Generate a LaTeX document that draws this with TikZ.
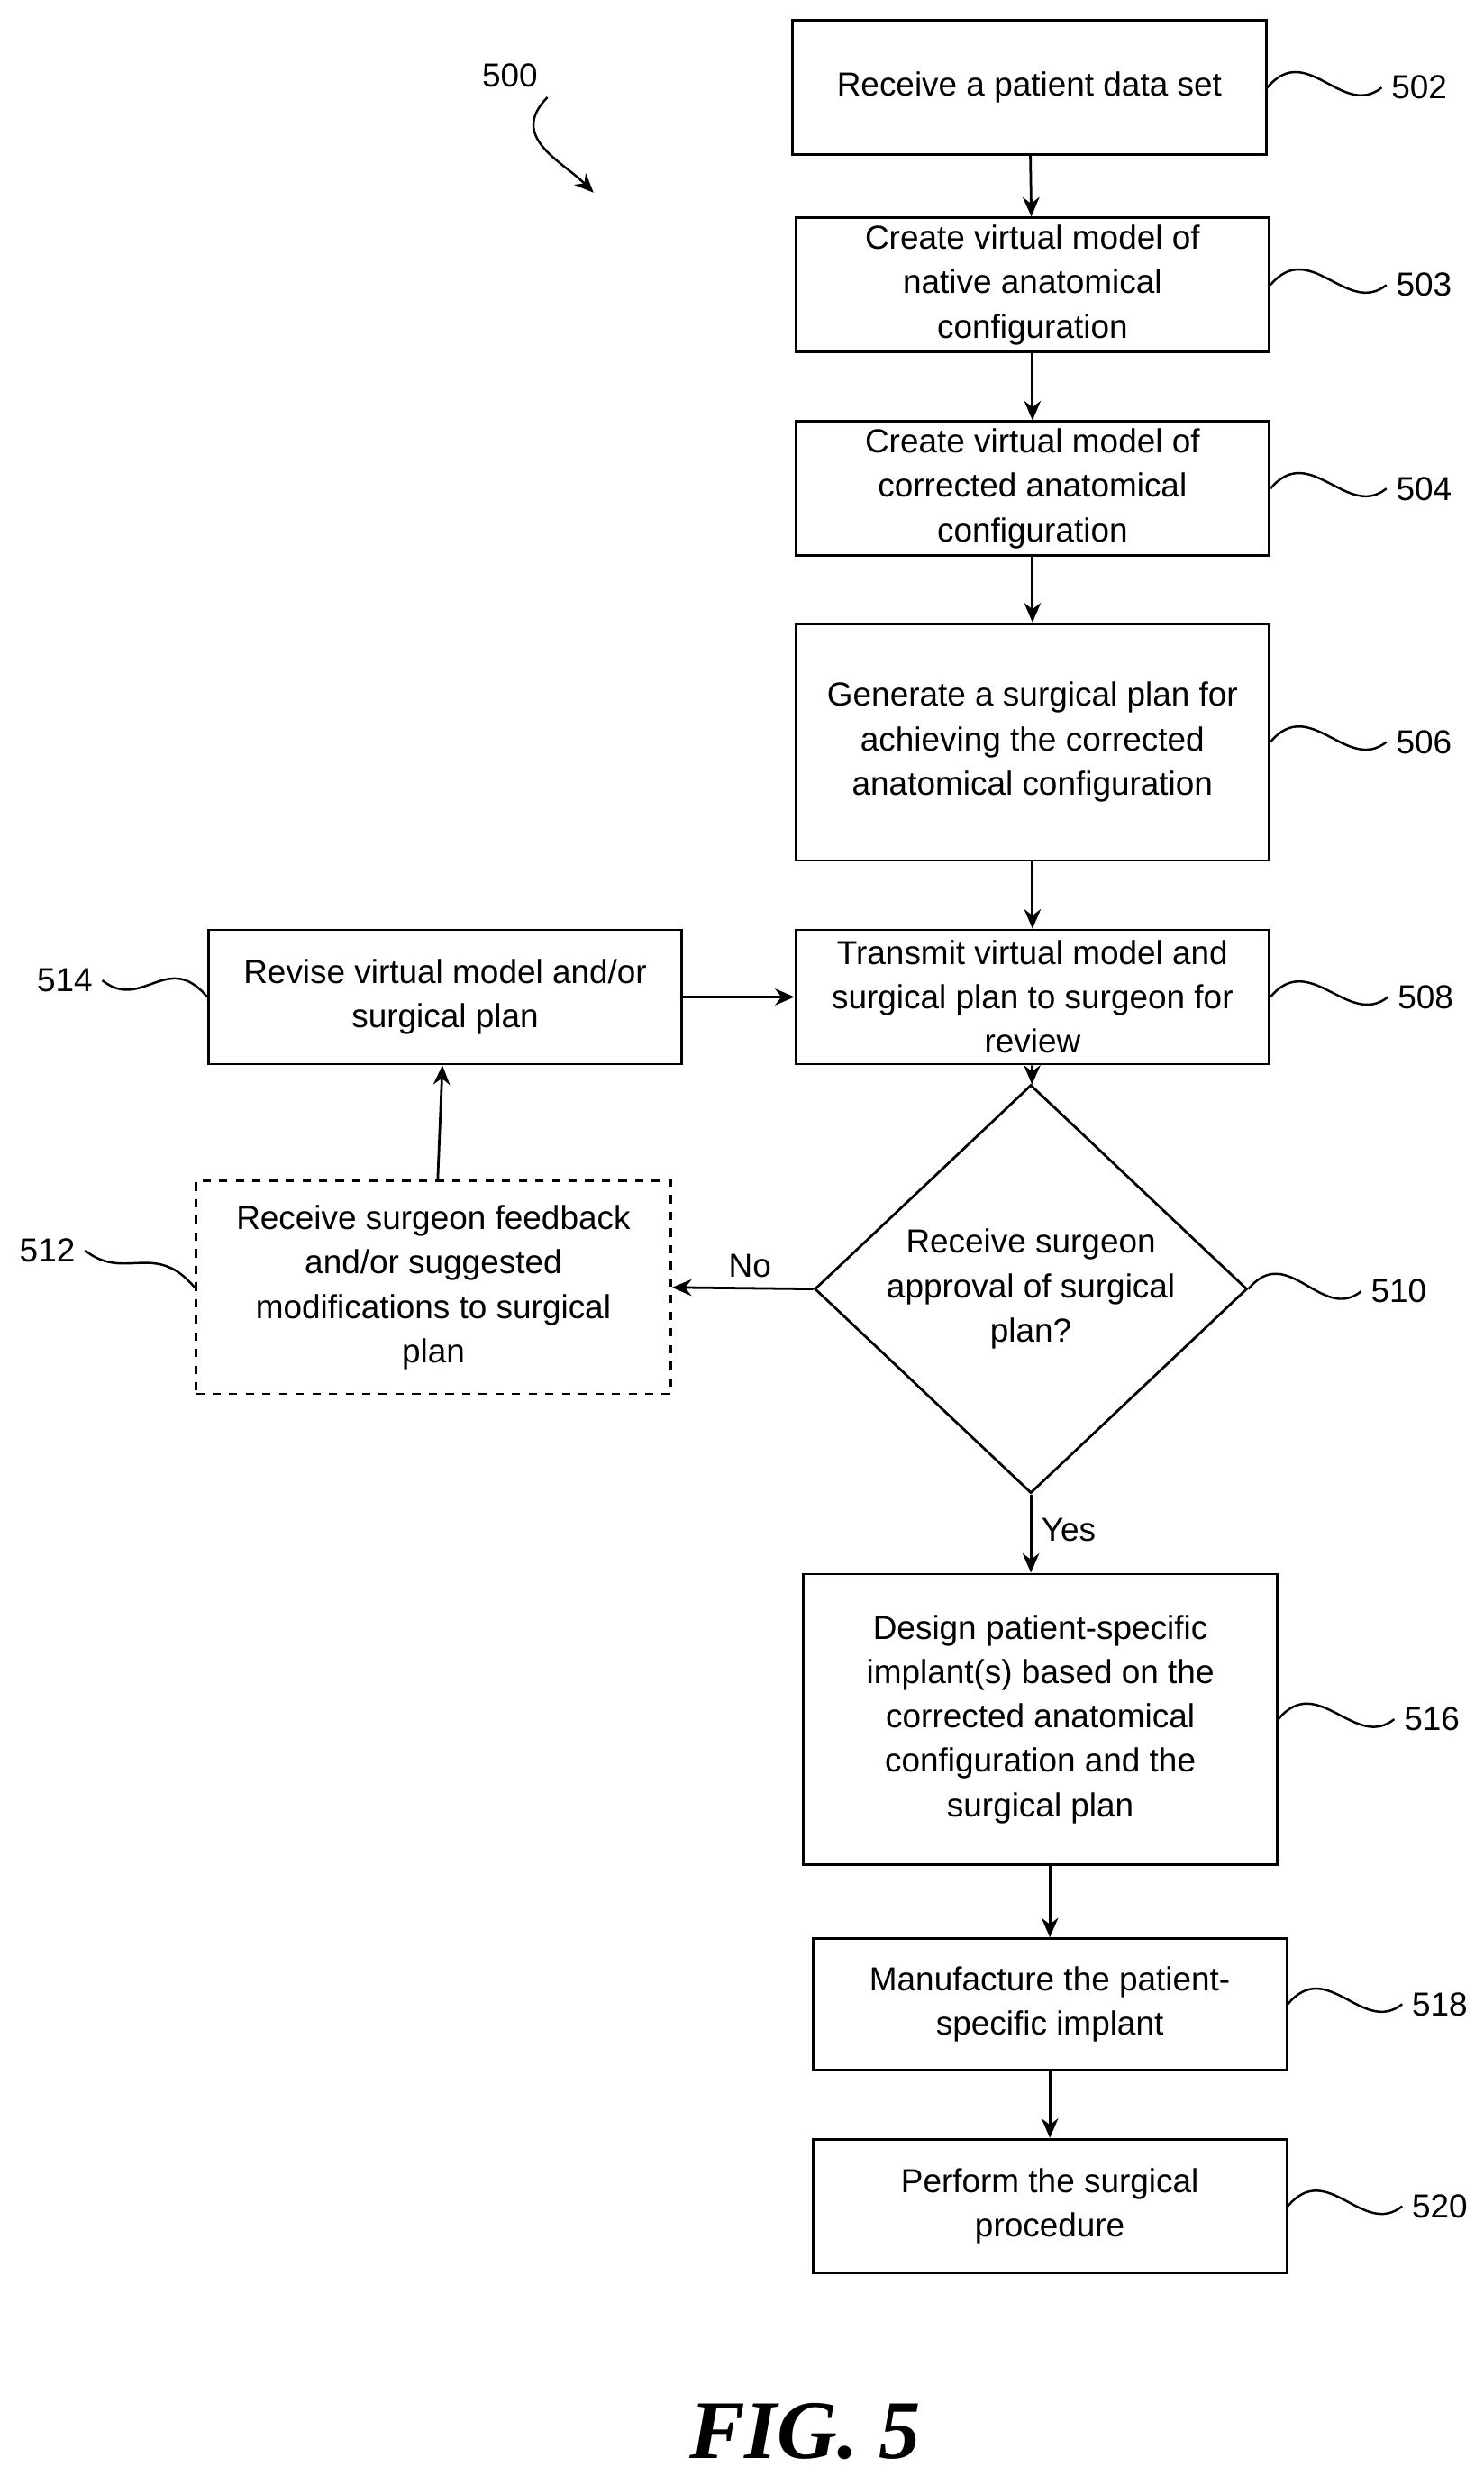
\documentclass[tikz,border=0pt]{standalone}
\usepackage{fontspec}
\setmainfont{Liberation Sans}
\newfontfamily\figfont{Liberation Serif}
\usetikzlibrary{shapes.geometric,arrows.meta}

\tikzset{
  stepbox/.style={draw,line width=0.9pt,align=center,inner sep=2pt,minimum width=6cm,minimum height=1.7cm,font=\fontsize{12}{16}\selectfont},
  flow/.style={-{Stealth[length=7pt,width=6pt]},line width=0.9pt},
  sq/.style={line width=0.8pt},
  lbl/.style={font=\fontsize{12}{14}\selectfont}
}

\begin{document}
\begin{tikzpicture}[x=0.02cm,y=-0.02cm]
  \useasboundingbox (0,0) rectangle (940,1562.7);

  % boxes
  \node[stepbox] (s502) at (652,55.5) {Receive a patient data set};
  \node[stepbox] (s503) at (654,180.5) {Create virtual model of\\native anatomical\\configuration};
  \node[stepbox] (s504) at (654,309.5) {Create virtual model of\\corrected anatomical\\configuration};
  \node[stepbox,minimum height=3cm] (s506) at (654,470) {Generate a surgical plan for\\achieving the corrected\\anatomical configuration};
  \node[stepbox] (s508) at (654,631.5) {Transmit virtual model and\\surgical plan to surgeon for\\review};
  \node[stepbox] (s514) at (282,631.5) {Revise virtual model and/or\\surgical plan};
  \node[stepbox,dashed,minimum width=6.02cm,minimum height=2.7cm] (s512) at (274.5,815.5) {Receive surgeon feedback\\and/or suggested\\modifications to surgical\\plan};
  \node[diamond,draw,line width=0.9pt,minimum width=5.48cm,minimum height=4.06cm,inner sep=0pt,align=center,font=\fontsize{12}{16}\selectfont] (s510) at (653,816.5) {Receive surgeon\\approval of surgical\\plan?};
  \node[stepbox,minimum height=3.68cm] (s516) at (659,1089) {Design patient-specific\\implant(s) based on the\\corrected anatomical\\configuration and the\\surgical plan};
  \node[stepbox,minimum height=1.66cm] (s518) at (665,1269.5) {Manufacture the patient-\\specific implant};
  \node[stepbox] (s520) at (665,1397.5) {Perform the surgical\\procedure};

  % connectors
  \draw[flow] (s502) -- (s503);
  \draw[flow] (s503) -- (s504);
  \draw[flow] (s504) -- (s506);
  \draw[flow] (s506) -- (s508);
  \draw[flow] (s514) -- (s508);
  \draw[flow] (s508) -- (s510);
  \draw[flow] (s512) -- (s514);
  \draw[flow] (s510.west) -- node[lbl,above,pos=0.45] {No} (s512.east);
  \draw[flow] (s510.south) -- node[lbl,right,pos=0.45] {Yes} (s516.north -| s510.south);
  \draw[flow] (s516.south -| s518.north) -- (s518);
  \draw[flow] (s518) -- (s520);

  % reference numerals
  \foreach \n/\x in {502/899,503/902,504/902,506/902,508/903,516/907,518/912,520/912}{
    \coordinate (t\n) at (\x,0);
    \node[lbl] (r\n) at (t\n |- s\n) {\n};
    \draw[sq] (s\n.east) .. controls +(25,-30) and +(-25,20) .. (r\n.west);
  }
  \node[lbl] (r510) at (886,818) {510};
  \draw[sq] (s510.east) .. controls +(25,-30) and +(-25,20) .. (r510.west);
  \node[lbl] (r514) at (41,621) {514};
  \draw[sq] (r514.east) .. controls +(25,20) and +(-25,-30) .. (s514.west);
  \node[lbl] (r512) at (30,792) {512};
  \draw[sq] (r512.east) .. controls +(25,20) and +(-25,-30) .. (s512.west);

  \node[lbl] (r500) at (323,48) {500};
  \coordinate (a500) at (376,122);
  \draw[sq,-{Stealth[length=7pt,width=6pt]}] (r500.south east) .. controls +(-25,25) and +(-20,-20) .. (a500);

  \node[font=\figfont\bfseries\itshape\fontsize{30}{34}\selectfont] (fig) at (510,1540) {FIG. 5};
\end{tikzpicture}
\end{document}
